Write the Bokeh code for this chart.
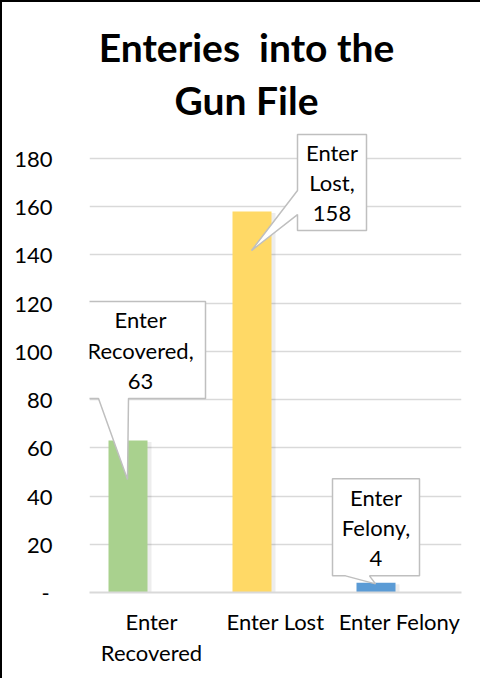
from bokeh.plotting import figure
from bokeh.models import Range1d, FixedTicker, Label
from bokeh.core.properties import value
from bokeh.embed import file_html
from bokeh.resources import INLINE

# ---- data ----
categories = ["Enter Recovered", "Enter Lost", "Enter Felony"]
counts = [63, 158, 4]
bar_colors = ["#A9D18E", "#FFD966", "#5B9BD5"]
x_tick_labels = ["Enter\nRecovered", "Enter Lost", "Enter Felony"]
y_ticks = [0, 20, 40, 60, 80, 100, 120, 140, 160, 180]
y_tick_labels = ["-\u2009", "20", "40", "60", "80", "100", "120", "140", "160", "180"]
title_lines = ["Enteries \u00a0into the", "Gun File"]

# ---- layout (pixels) ----
W, H = 480, 678
n = len(categories)
px_y = 434 / 180                 # pixels per unit on the value axis
ML, MR, MB, MT = 87, 21, 88, 0
frame_w = W - ML - MR
frame_h = H - MB - MT
y_end = frame_h / px_y           # plot area reaches the top so title/callouts are not clipped
px_x = frame_w / n
bar_offset = -23.5 / px_x
bar_width = 39 / px_x

FONT = "Lato"
FS = "22px"

p = figure(width=W, height=H, output_backend="svg", toolbar_location=None,
           x_range=Range1d(0, n), y_range=Range1d(0, y_end), title=None,
           min_border_left=ML, min_border_right=MR, min_border_top=MT, min_border_bottom=MB,
           tools="")
p.styles = {"border-left": "2px solid #000000", "border-top": "2px solid #000000"}
p.outline_line_color = None
p.background_fill_color = "white"
p.border_fill_color = "white"

# title: two centred lines above the highest gridline
title_center_px = 157            # from the left edge of the plot area
title_baselines_px = [112, 59]   # distance of each baseline above the top gridline
for line, up in zip(title_lines, title_baselines_px):
    p.add_layout(Label(x=title_center_px / px_x, y=max(y_ticks) + up / px_y, text=line,
                       text_align="center", text_baseline="alphabetic",
                       text_font=FONT, text_font_size="39px", text_font_style="bold",
                       text_color="#000000"))

# grid
p.xgrid.visible = False
p.ygrid.grid_line_color = "#D9D9D9"
p.ygrid.grid_line_width = 1.3
p.ygrid.ticker = FixedTicker(ticks=y_ticks)

# axes
xa = p.xaxis[0]
xa.ticker = FixedTicker(ticks=[i + 0.5 for i in range(n)])
xa.major_label_overrides = {i + 0.5: lab for i, lab in enumerate(x_tick_labels)}
xa.axis_line_color = "#D9D9D9"
xa.axis_line_width = 2
xa.major_tick_line_color = None
xa.minor_tick_line_color = None
xa.major_label_text_font = FONT
xa.major_label_text_font_size = FS
xa.major_label_text_color = "#000000"
xa.major_label_standoff = 9
try:
    xa.major_label_text_line_height = 1.15
except Exception:
    pass

ya = p.yaxis[0]
ya.ticker = FixedTicker(ticks=y_ticks)
ya.major_label_overrides = {t: lab for t, lab in zip(y_ticks, y_tick_labels)}
ya.axis_line_color = None
ya.major_tick_line_color = None
ya.minor_tick_line_color = None
ya.major_label_text_font = FONT
ya.major_label_text_font_size = FS
ya.major_label_text_color = "#000000"
ya.major_label_standoff = 31

# bars (with soft shadow)
xs = [i + 0.5 + bar_offset for i in range(n)]
p.quad(left=[x - bar_width / 2 + 2 / px_x for x in xs],
       right=[x + bar_width / 2 + 4 / px_x for x in xs],
       bottom=[0] * n, top=[v - 1.5 / px_y for v in counts],
       fill_color="#000000", fill_alpha=0.07, line_color=None)
p.vbar(x=xs, width=bar_width, top=counts, bottom=0, fill_color=bar_colors, line_color=None)

# callouts: pixel offsets relative to bar top (x right, y down)
# (left, right, top, bottom, pointer side, pointer base a, pointer base b, tip dx, tip dy)
callout_layout = [
    (-52.5, 77.5, -139, -42, "bottom", -29.5, 0.5, -0.5, 39),
    (45.5, 114.5, -77, 19, "left", -21, 3, -0.5, 39),
    (-43.5, 43.5, -104, -7, "bottom", -30.5, -6.5, -0.5, 1),
]

poly_xs, poly_ys, tx, ty, texts = [], [], [], [], []
for bx, v, cat, lay in zip(xs, counts, categories, callout_layout):
    L, R, T, B, side, a, b, tdx, tdy = lay
    if side == "bottom":
        pts = [(L, T), (R, T), (R, B), (b, B), (tdx, tdy), (a, B), (L, B)]
    else:
        pts = [(L, T), (R, T), (R, B), (L, B), (L, b), (tdx, tdy), (L, a)]
    poly_xs.append([bx + dx / px_x for dx, dy in pts])
    poly_ys.append([v - dy / px_y for dx, dy in pts])
    tx.append(bx + (L + R) / 2 / px_x)
    ty.append(v - (T + B) / 2 / px_y)
    texts.append(cat.replace(" ", "\n", 1) + ",\n" + str(v))

p.patches(xs=poly_xs, ys=poly_ys, fill_color="white", line_color="#BFBFBF", line_width=1.5)
p.text(x=tx, y=ty, text=texts, text_align="center", text_baseline="middle",
       text_font=value(FONT), text_font_size=FS, text_color="#000000",
       text_line_height=1.12)

open("out.html", "w").write(file_html(p, INLINE))
